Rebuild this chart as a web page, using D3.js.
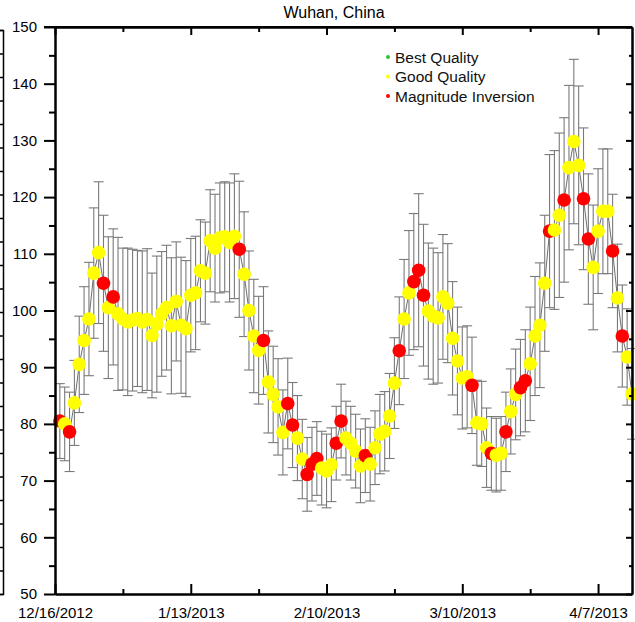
<!DOCTYPE html>
<html><head><meta charset="utf-8">
<script src="https://cdn.jsdelivr.net/npm/d3@7/dist/d3.min.js"></script>
<style>body{margin:0;background:#fff}svg{display:block;font-family:Arial,"Liberation Sans",sans-serif}</style>
</head><body>
<svg id="c" width="635" height="622"></svg>
<script>
// ---- data ----
const title = "Wuhan, China";
const startDate = "2012-12-17"; // first daily observation
const values = [80.5,80.0,78.6,83.7,90.5,94.7,98.5,106.6,110.2,104.8,
100.5,102.4,99.4,98.5,98.0,98.3,98.6,98.0,98.4,95.6,
97.6,99.4,100.5,97.3,101.6,97.4,96.8,102.7,103.1,107.0,
106.6,112.3,111.0,112.8,113.0,112.0,113.1,110.8,106.4,100.0,
95.5,93.0,94.7,87.4,85.2,83.0,78.5,83.6,79.8,77.5,
73.8,71.1,72.9,73.9,72.2,71.7,72.8,76.6,80.5,77.5,
76.6,75.2,72.6,74.4,72.9,75.8,78.2,78.7,81.4,87.2,
92.9,98.5,103.1,105.1,107.1,102.7,99.9,99.0,98.7,102.4,
101.3,95.1,91.1,88.1,88.3,86.8,80.2,80.0,75.8,74.8,
74.5,74.8,78.6,82.2,85.2,86.4,87.6,90.6,95.5,97.4,
104.8,114.0,114.2,116.8,119.5,125.2,129.8,125.6,119.7,112.6,
107.6,114.0,117.5,117.5,110.5,102.2,95.5,91.8,85.3];
const errors = [6.6,6.5,7,7.5,8.5,9.5,10,11.5,12.5,12,
12.5,12,13.5,12.5,13,12.5,12,12.5,12.5,11,
12,11,11,12,10.5,12,12,10,10,9,
9,9,9.5,9.7,9.7,10.5,11,12,11,10.5,
10,9.5,9.5,9,8.5,8.5,7.5,8,7.5,7.5,
7,6.5,6.5,6.5,6.5,6.5,6.5,6.5,6.5,6.5,
6.5,6.5,6.5,6.5,6.5,6.5,7,7,7.5,8,
9.5,10.5,11,12,13.5,12.5,12,12,11.5,11,
10.5,10,9.5,9,9,8.5,7.5,7.5,7,6.5,
6.5,6.5,7,7.5,8,8.5,9,10,10.5,11,
12,13.5,14,14.5,14.5,14.5,14.5,14,12.5,11.5,
11,11,11,11,10,9.5,9,8.5,8];
// G = Good Quality, M = Magnitude Inversion
const quality = "MGMGGGGGGMGMGGGGGGGGGGGGGGGGGGGGGGGGGMGGGGMGGGGMMGGMMMGGGMMGGGGMGGGGGGMGGMMMGGGGGGGGGMGGGMGGMGGMMGGGGMGGMGGGMMGGGGMGMGG";
const legendLabels = ["Best Quality","Good Quality","Magnitude Inversion"];
const legendColors = ["#2fc42f","#ffff00","#ff0000"];
const colorOf = {G:"#ffff00", M:"#ff0000", B:"#2fc42f"};
const xTickLabels = ["12/16/2012","1/13/2013","2/10/2013","3/10/2013","4/7/2013"];
const yTicks = [50,60,70,80,90,100,110,120,130,140,150];

// ---- layout ----
const svg = d3.select("#c");
const L = 55, R = 632, T = 27, B = 594;
const parse = d3.timeParse("%Y-%m-%d");
const t0 = parse(startDate);
const dates = values.map((v,i)=>d3.timeDay.offset(t0,i));
const x = d3.scaleTime().domain([parse("2012-12-16"), parse("2013-04-14")]).range([L,R]);
const y = d3.scaleLinear().domain([50,150]).range([B,T]);
const data = values.map((v,i)=>({d:dates[i], v, e:errors[i], q:quality[i]}));

// neighbouring chart's right axis (cropped at left edge)
const yn = d3.scaleLinear().domain([0,24]).range([594,30]);
svg.append("g").attr("transform","translate(3,0)")
  .call(d3.axisLeft(yn).ticks(24).tickSize(4).tickFormat(""))
  .call(g=>g.selectAll("path,line").attr("stroke","#000").attr("stroke-width",1.5));

// error bars
const eb = svg.append("g").attr("stroke","#7a7a7a").attr("stroke-width",1.1).attr("fill","none");
data.forEach(p=>{
  const cx = x(p.d), y1 = y(p.v+p.e), y2 = y(p.v-p.e);
  eb.append("line").attr("x1",cx).attr("x2",cx).attr("y1",y1).attr("y2",y2);
  eb.append("line").attr("x1",cx-5).attr("x2",cx+5).attr("y1",y1).attr("y2",y1);
  eb.append("line").attr("x1",cx-5).attr("x2",cx+5).attr("y1",y2).attr("y2",y2);
});
// connecting line
svg.append("path").datum(data)
  .attr("d", d3.line().x(p=>x(p.d)).y(p=>y(p.v)))
  .attr("fill","none").attr("stroke","#6e6e6e").attr("stroke-width",1);
// markers
svg.append("g").selectAll("circle").data(data).join("circle")
  .attr("cx",p=>x(p.d)).attr("cy",p=>y(p.v)).attr("r",6.8)
  .attr("fill",p=>colorOf[p.q]);

// axes
const xMajor = xTickLabels.map(s=>d3.timeParse("%m/%d/%Y")(s));
const xMinor = xMajor.map(d=>d3.timeDay.offset(d,14)).filter(d=>x(d)<R);
const yMinor = d3.range(55,150,10);
const ax = svg.append("g").attr("stroke","#000");
function styleAxis(g){ g.selectAll("path,line").attr("stroke","#000").attr("stroke-width",2); g.selectAll("text").attr("fill","#000").attr("font-size","15px"); }
// left
svg.append("g").attr("transform",`translate(${L},0)`)
  .call(d3.axisLeft(y).tickValues(yTicks).tickSize(11).tickSizeOuter(0).tickPadding(7))
  .call(styleAxis);
svg.append("g").attr("transform",`translate(${L},0)`)
  .call(d3.axisLeft(y).tickValues(yMinor).tickSize(6).tickSizeOuter(0).tickFormat(""))
  .call(styleAxis);
// right
svg.append("g").attr("transform",`translate(${R},0)`)
  .call(d3.axisLeft(y).tickValues(yTicks).tickSize(-0).tickSizeInner(6).tickSizeOuter(0).tickFormat(""))
  .call(styleAxis).call(g=>g.selectAll(".tick line").attr("x2",-6).attr("x1",0));
svg.append("g").attr("transform",`translate(${R},0)`)
  .call(d3.axisLeft(y).tickValues(yMinor).tickSizeInner(3).tickSizeOuter(0).tickFormat(""))
  .call(styleAxis);
// bottom
svg.append("g").attr("transform",`translate(0,${B})`)
  .call(d3.axisBottom(x).tickValues(xMajor).tickSize(-10).tickSizeOuter(0).tickPadding(10)
    .tickFormat((d,i)=>xTickLabels[i]))
  .call(styleAxis).call(g=>g.selectAll("text").attr("y",13));
svg.append("g").attr("transform",`translate(0,${B})`)
  .call(d3.axisBottom(x).tickValues(xMinor).tickSize(-5).tickSizeOuter(0).tickFormat(""))
  .call(styleAxis);
// top
svg.append("g").attr("transform",`translate(0,${T})`)
  .call(d3.axisTop(x).tickValues(xMajor).tickSize(-8).tickSizeOuter(0).tickFormat(""))
  .call(styleAxis);
svg.append("g").attr("transform",`translate(0,${T})`)
  .call(d3.axisTop(x).tickValues(xMinor).tickSize(-5).tickSizeOuter(0).tickFormat(""))
  .call(styleAxis);
// extend top axis line to major tick at 150
svg.append("line").attr("x1",L-11).attr("x2",R).attr("y1",T).attr("y2",T).attr("stroke","#000").attr("stroke-width",2);

// title
svg.append("text").attr("x",334).attr("y",18).attr("text-anchor","middle")
  .attr("font-size","16px").attr("fill","#000").text(title);

// legend
const lg = svg.append("g").attr("transform","translate(388,57)");
legendLabels.forEach((s,i)=>{
  const g = lg.append("g").attr("transform",`translate(0,${i*19.5})`);
  g.append("circle").attr("r",2).attr("fill",legendColors[i]);
  g.append("text").attr("x",7).attr("y",5.5).attr("font-size","15.5px").attr("fill","#111").text(s);
});
</script>
</body></html>
